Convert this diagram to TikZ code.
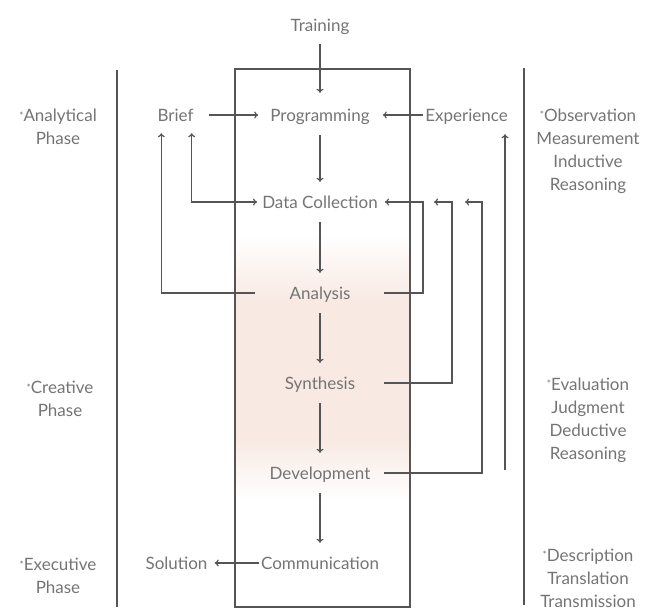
\documentclass[tikz,border=0pt]{standalone}
\usepackage{fontspec}
\setmainfont{Lato}
\usetikzlibrary{arrows.meta,calc}
\definecolor{ink}{HTML}{555555}
\definecolor{txt}{HTML}{747474}
\definecolor{blush}{HTML}{F8EAE3}
\newcommand\mk{\raisebox{2.5pt}{\fontsize{10}{10}\selectfont *}}
\begin{document}
\begin{tikzpicture}[x=1pt,y=-1pt,
  lbl/.style={text=txt,font=\fontsize{17}{19}\selectfont,inner sep=0pt,text height=14pt,text depth=2pt},
  side/.style={text=txt,font=\fontsize{17}{23}\selectfont,align=center,inner sep=0pt},
  wire/.style={draw=ink,line width=1.2pt},
  arr/.style={wire,-{To[length=4pt,width=7pt]}},
  vflow/.style={arr,shorten <=12pt,shorten >=12pt},
]
\useasboundingbox (0,0) rectangle (647,614);

% soft tint behind the creative stages
\shade[top color=white,bottom color=blush] (236,235) rectangle (409,300);
\fill[blush] (236,300) rectangle (409,440);
\shade[top color=blush,bottom color=white] (236,440) rectangle (409,500);

% frame and phase dividers
\draw[wire] (235,69) rectangle (410,607);
\draw[wire] (117,70) -- (117,607);
\draw[wire] (524,68) -- (524,605);

% process stages
\node[lbl] (train) at (320,25)  {Training};
\node[lbl] (prog)  at (320,115) {Programming};
\node[lbl] (brief) at (175.5,115) {Brief};
\node[lbl] (exp)   at (466.5,115) {Experience};
\node[lbl] (data)  at (320,202) {Data Collection};
\node[lbl] (ana)   at (320,293) {Analysis};
\node[lbl] (syn)   at (320,383) {Synthesis};
\node[lbl] (dev)   at (320,473) {Development};
\node[lbl] (comm)  at (320,563) {Communication};
\node[lbl] (sol)   at (176.5,563) {Solution};

% phase notes
\node[side] (ph1) at (58,127)  {\mk Analytical\\Phase};
\node[side] (ph2) at (60,399)  {\mk Creative\\Phase};
\node[side] (ph3) at (58,576)  {\mk Executive\\Phase};
\node[side] (md1) at (588,151) {\mk Observation\\Measurement\\Inductive\\Reasoning};
\node[side] (md2) at (588,420) {\mk Evaluation\\Judgment\\Deductive\\Reasoning};
\node[side] (md3) at (588,578) {\mk Description\\Translation\\Transmission};

% taps and return lines
\coordinate (ltap) at (255,0);
\coordinate (rtap) at (384,0);
\coordinate (v1) at (423,0);
\coordinate (v2) at (452,0);
\coordinate (v3) at (482,0);
\coordinate (v4) at (505,470);

% main sequence
\draw[arr,shorten <=11pt,shorten >=14pt] (train) -- (prog);
\draw[vflow] (prog) -- (data);
\draw[vflow] (data) -- (ana);
\draw[vflow] (ana) -- (syn);
\draw[vflow] (syn) -- (dev);
\draw[vflow] (dev) -- (comm);

% inputs and output
\draw[arr,shorten <=15pt,shorten >=12pt] (brief.east) -- (prog.west);
\draw[arr,shorten <=2pt,shorten >=13pt] (exp.west) -- (prog.east);
\draw[arr,shorten <=2pt,shorten >=7pt] (comm.west) -- (sol.east);

% feedback loops
\draw[wire,{To[length=4pt,width=7pt]}-{To[length=4pt,width=7pt]}]
  ([xshift=-2pt,yshift=-10pt]brief.south east) |- ([xshift=-5pt]data.west);
\draw[arr] (ana.west -| ltap) -| ([xshift=4pt,yshift=-10pt]brief.south west);
\draw[arr] (ana.east -| rtap) -| (v1 |- data) -- ([xshift=7pt]data.east);
\draw[arr] (syn.east -| rtap) -| (v2 |- data) -- ([xshift=-18pt]v2 |- data);
\draw[arr] (dev.east -| rtap) -| (v3 |- data) -- ([xshift=-17pt]v3 |- data);
\draw[arr] (v4) -- ([yshift=-11pt]v4 |- exp.south);
\end{tikzpicture}
\end{document}
